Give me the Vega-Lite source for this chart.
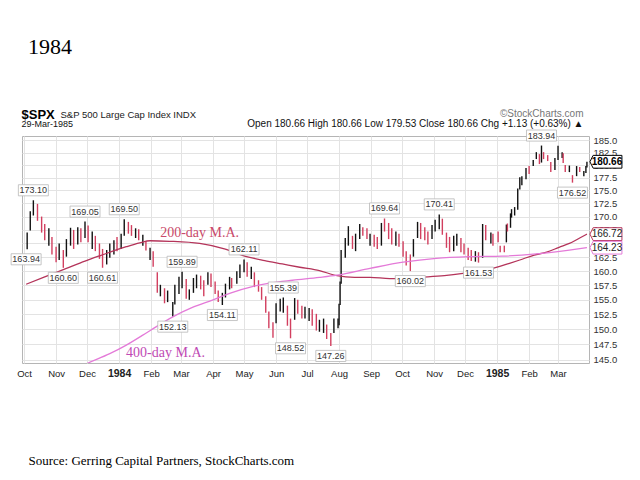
{
"$schema": "https://vega.github.io/schema/vega-lite/v6.json",
"width": 567,
"height": 227,
"autosize": {"type": "none"},
"padding": {"left": 22, "top": 136, "right": 51, "bottom": 117},
"background": "white",
"config": {"view": {"stroke": "#b5b5b5", "strokeWidth": 1}, "font": "Liberation Sans"},
"title": {"text": "1984", "anchor": "start", "frame": "group", "font": "Liberation Serif", "fontSize": 22, "fontWeight": "normal", "color": "#000000", "offset": 49, "dx": 6},
"datasets": {
"ohlc": [
{"d":"1983-10-04","o":165.5,"h":167.0,"l":163.94,"c":166.5},
{"d":"1983-10-07","o":167.6,"h":171.0,"l":167.4,"c":170.8},
{"d":"1983-10-10","o":170.8,"h":173.1,"l":170.2,"c":172.6},
{"d":"1983-10-14","o":171.5,"h":172.4,"l":169.2,"c":169.6},
{"d":"1983-10-18","o":169.5,"h":170.0,"l":167.0,"c":167.5},
{"d":"1983-10-21","o":167.8,"h":168.6,"l":165.6,"c":166.0},
{"d":"1983-10-25","o":165.5,"h":167.8,"l":164.6,"c":166.8},
{"d":"1983-10-28","o":165.8,"h":166.2,"l":163.0,"c":163.4},
{"d":"1983-11-01","o":163.6,"h":164.4,"l":161.6,"c":162.2},
{"d":"1983-11-04","o":162.4,"h":165.0,"l":162.0,"c":164.2},
{"d":"1983-11-08","o":163.2,"h":163.8,"l":160.6,"c":161.4},
{"d":"1983-11-11","o":162.8,"h":165.8,"l":162.6,"c":165.4},
{"d":"1983-11-15","o":165.4,"h":167.9,"l":164.6,"c":166.8},
{"d":"1983-11-18","o":166.5,"h":167.5,"l":164.0,"c":164.8},
{"d":"1983-11-22","o":165.2,"h":168.0,"l":164.8,"c":167.4},
{"d":"1983-11-25","o":167.2,"h":167.8,"l":165.2,"c":166.0},
{"d":"1983-11-29","o":166.4,"h":169.05,"l":166.0,"c":168.4},
{"d":"1983-12-02","o":168.0,"h":168.3,"l":165.2,"c":165.8},
{"d":"1983-12-06","o":165.6,"h":167.2,"l":164.0,"c":166.5},
{"d":"1983-12-09","o":166.2,"h":166.4,"l":163.6,"c":164.0},
{"d":"1983-12-13","o":164.4,"h":165.0,"l":162.2,"c":162.6},
{"d":"1983-12-16","o":162.6,"h":164.0,"l":160.61,"c":161.8},
{"d":"1983-12-20","o":161.8,"h":163.8,"l":161.2,"c":163.2},
{"d":"1983-12-23","o":162.8,"h":165.0,"l":162.4,"c":164.6},
{"d":"1983-12-27","o":164.4,"h":165.6,"l":163.0,"c":165.0},
{"d":"1983-12-30","o":165.2,"h":166.2,"l":163.6,"c":164.9},
{"d":"1984-01-03","o":164.4,"h":166.8,"l":164.0,"c":166.6},
{"d":"1984-01-06","o":166.8,"h":169.5,"l":166.4,"c":169.2},
{"d":"1984-01-10","o":168.6,"h":169.0,"l":166.8,"c":167.2},
{"d":"1984-01-13","o":167.2,"h":168.4,"l":166.4,"c":167.0},
{"d":"1984-01-17","o":167.0,"h":167.8,"l":166.0,"c":167.4},
{"d":"1984-01-20","o":167.2,"h":167.6,"l":165.6,"c":166.2},
{"d":"1984-01-24","o":165.4,"h":166.6,"l":164.6,"c":165.9},
{"d":"1984-01-27","o":165.2,"h":165.4,"l":163.7,"c":163.9},
{"d":"1984-01-31","o":163.2,"h":164.2,"l":162.0,"c":163.4},
{"d":"1984-02-03","o":163.2,"h":163.6,"l":160.8,"c":161.0},
{"d":"1984-02-07","o":159.4,"h":159.8,"l":156.2,"c":156.6},
{"d":"1984-02-10","o":156.4,"h":157.6,"l":155.6,"c":157.0},
{"d":"1984-02-14","o":156.8,"h":157.0,"l":154.4,"c":155.0},
{"d":"1984-02-17","o":155.0,"h":156.6,"l":154.6,"c":155.8},
{"d":"1984-02-22","o":154.2,"h":154.6,"l":152.13,"c":154.3},
{"d":"1984-02-24","o":154.4,"h":157.6,"l":154.2,"c":157.5},
{"d":"1984-02-28","o":157.4,"h":159.0,"l":156.0,"c":158.6},
{"d":"1984-03-02","o":158.6,"h":159.89,"l":157.0,"c":159.3},
{"d":"1984-03-06","o":158.4,"h":158.6,"l":155.2,"c":155.8},
{"d":"1984-03-09","o":155.4,"h":156.8,"l":155.0,"c":156.2},
{"d":"1984-03-13","o":156.4,"h":158.8,"l":156.2,"c":158.2},
{"d":"1984-03-16","o":157.6,"h":159.4,"l":157.0,"c":158.8},
{"d":"1984-03-20","o":158.8,"h":159.2,"l":156.8,"c":157.4},
{"d":"1984-03-23","o":157.6,"h":158.4,"l":155.6,"c":156.4},
{"d":"1984-03-27","o":157.8,"h":159.8,"l":157.6,"c":159.6},
{"d":"1984-03-30","o":159.4,"h":159.6,"l":157.2,"c":158.0},
{"d":"1984-04-03","o":157.8,"h":158.2,"l":156.0,"c":156.4},
{"d":"1984-04-06","o":156.4,"h":156.6,"l":154.6,"c":155.0},
{"d":"1984-04-10","o":154.8,"h":156.2,"l":154.11,"c":155.8},
{"d":"1984-04-13","o":156.0,"h":157.8,"l":155.4,"c":157.0},
{"d":"1984-04-17","o":157.0,"h":159.0,"l":156.8,"c":158.6},
{"d":"1984-04-19","o":158.6,"h":158.8,"l":157.0,"c":157.6},
{"d":"1984-04-24","o":158.0,"h":160.0,"l":157.8,"c":159.6},
{"d":"1984-04-27","o":159.6,"h":161.2,"l":158.8,"c":160.6},
{"d":"1984-05-01","o":160.6,"h":162.11,"l":159.8,"c":161.6},
{"d":"1984-05-04","o":161.4,"h":161.6,"l":159.0,"c":159.6},
{"d":"1984-05-08","o":159.4,"h":160.8,"l":158.6,"c":160.2},
{"d":"1984-05-11","o":159.6,"h":159.8,"l":157.2,"c":157.6},
{"d":"1984-05-15","o":157.8,"h":158.4,"l":156.4,"c":157.0},
{"d":"1984-05-18","o":156.8,"h":157.2,"l":155.0,"c":155.4},
{"d":"1984-05-22","o":155.4,"h":155.6,"l":152.8,"c":153.2},
{"d":"1984-05-25","o":152.8,"h":153.0,"l":150.2,"c":150.8},
{"d":"1984-05-29","o":150.6,"h":151.2,"l":148.6,"c":150.0},
{"d":"1984-06-01","o":151.2,"h":154.4,"l":151.0,"c":153.8},
{"d":"1984-06-05","o":153.8,"h":155.2,"l":153.0,"c":154.6},
{"d":"1984-06-08","o":154.6,"h":155.39,"l":152.8,"c":155.0},
{"d":"1984-06-12","o":153.8,"h":154.0,"l":150.6,"c":151.0},
{"d":"1984-06-15","o":151.0,"h":151.8,"l":148.52,"c":149.2},
{"d":"1984-06-19","o":151.8,"h":155.3,"l":151.6,"c":154.8},
{"d":"1984-06-22","o":154.6,"h":155.0,"l":152.6,"c":153.2},
{"d":"1984-06-26","o":153.4,"h":154.0,"l":151.8,"c":152.4},
{"d":"1984-06-29","o":152.2,"h":153.8,"l":151.8,"c":153.2},
{"d":"1984-07-03","o":153.0,"h":153.6,"l":151.4,"c":153.4},
{"d":"1984-07-06","o":153.2,"h":153.4,"l":150.6,"c":151.4},
{"d":"1984-07-10","o":151.6,"h":152.6,"l":149.8,"c":150.2},
{"d":"1984-07-13","o":150.2,"h":151.6,"l":149.6,"c":150.8},
{"d":"1984-07-17","o":150.6,"h":151.8,"l":149.4,"c":151.2},
{"d":"1984-07-20","o":150.6,"h":150.8,"l":148.4,"c":149.0},
{"d":"1984-07-24","o":148.8,"h":149.4,"l":147.26,"c":147.8},
{"d":"1984-07-27","o":149.6,"h":151.8,"l":149.4,"c":151.2},
{"d":"1984-07-31","o":150.6,"h":151.8,"l":150.2,"c":150.7},
{"d":"1984-08-01","o":150.7,"h":154.3,"l":150.7,"c":154.1},
{"d":"1984-08-02","o":154.1,"h":158.2,"l":154.1,"c":158.0},
{"d":"1984-08-03","o":158.0,"h":163.8,"l":157.8,"c":162.4},
{"d":"1984-08-07","o":162.8,"h":166.0,"l":162.4,"c":165.4},
{"d":"1984-08-10","o":165.2,"h":168.2,"l":164.6,"c":167.2},
{"d":"1984-08-14","o":166.2,"h":166.4,"l":164.0,"c":164.6},
{"d":"1984-08-17","o":164.6,"h":166.8,"l":163.6,"c":166.2},
{"d":"1984-08-21","o":166.4,"h":168.6,"l":165.8,"c":168.2},
{"d":"1984-08-24","o":167.6,"h":168.0,"l":166.4,"c":166.8},
{"d":"1984-08-28","o":167.0,"h":167.8,"l":165.8,"c":166.0},
{"d":"1984-08-31","o":166.0,"h":166.8,"l":164.6,"c":166.6},
{"d":"1984-09-04","o":166.4,"h":166.6,"l":164.4,"c":164.8},
{"d":"1984-09-07","o":165.6,"h":166.2,"l":164.0,"c":164.4},
{"d":"1984-09-11","o":164.8,"h":168.8,"l":164.6,"c":168.4},
{"d":"1984-09-14","o":168.4,"h":169.64,"l":167.2,"c":167.8},
{"d":"1984-09-18","o":168.6,"h":168.8,"l":165.8,"c":166.4},
{"d":"1984-09-21","o":167.4,"h":167.8,"l":164.8,"c":165.2},
{"d":"1984-09-25","o":165.0,"h":167.2,"l":164.6,"c":166.4},
{"d":"1984-09-28","o":166.4,"h":166.8,"l":164.4,"c":166.1},
{"d":"1984-10-02","o":165.2,"h":165.4,"l":162.6,"c":162.8},
{"d":"1984-10-05","o":162.8,"h":163.6,"l":161.0,"c":162.4},
{"d":"1984-10-09","o":162.0,"h":163.0,"l":160.02,"c":161.6},
{"d":"1984-10-12","o":162.8,"h":165.8,"l":162.6,"c":165.4},
{"d":"1984-10-16","o":166.2,"h":169.0,"l":166.0,"c":168.4},
{"d":"1984-10-19","o":168.2,"h":168.8,"l":165.8,"c":167.0},
{"d":"1984-10-23","o":167.0,"h":168.0,"l":165.6,"c":166.0},
{"d":"1984-10-26","o":166.0,"h":167.2,"l":164.8,"c":165.3},
{"d":"1984-10-30","o":165.8,"h":168.4,"l":165.8,"c":168.0},
{"d":"1984-11-02","o":167.8,"h":169.4,"l":167.2,"c":168.6},
{"d":"1984-11-06","o":168.4,"h":170.41,"l":167.6,"c":170.2},
{"d":"1984-11-09","o":169.4,"h":169.6,"l":166.6,"c":167.4},
{"d":"1984-11-13","o":166.8,"h":167.0,"l":164.2,"c":164.6},
{"d":"1984-11-16","o":165.6,"h":166.2,"l":163.4,"c":163.8},
{"d":"1984-11-20","o":163.8,"h":166.4,"l":163.6,"c":165.6},
{"d":"1984-11-23","o":165.6,"h":166.8,"l":164.6,"c":166.2},
{"d":"1984-11-27","o":165.6,"h":166.0,"l":163.4,"c":164.0},
{"d":"1984-11-30","o":164.2,"h":165.0,"l":163.0,"c":163.6},
{"d":"1984-12-04","o":163.6,"h":164.2,"l":162.0,"c":162.4},
{"d":"1984-12-07","o":162.4,"h":163.8,"l":161.8,"c":162.2},
{"d":"1984-12-11","o":162.2,"h":163.6,"l":161.7,"c":162.6},
{"d":"1984-12-14","o":162.8,"h":163.4,"l":161.53,"c":162.0},
{"d":"1984-12-18","o":162.6,"h":168.6,"l":162.4,"c":168.1},
{"d":"1984-12-21","o":167.8,"h":168.4,"l":165.6,"c":166.0},
{"d":"1984-12-26","o":166.0,"h":167.0,"l":165.0,"c":166.4},
{"d":"1984-12-28","o":166.4,"h":166.8,"l":164.6,"c":165.6},
{"d":"1985-01-02","o":167.2,"h":167.2,"l":165.2,"c":165.4},
{"d":"1985-01-04","o":164.6,"h":164.6,"l":163.4,"c":163.7},
{"d":"1985-01-08","o":164.2,"h":164.6,"l":163.4,"c":164.0},
{"d":"1985-01-10","o":165.2,"h":168.5,"l":165.2,"c":168.3},
{"d":"1985-01-11","o":168.3,"h":168.7,"l":167.2,"c":167.9},
{"d":"1985-01-14","o":167.9,"h":170.6,"l":167.9,"c":170.5},
{"d":"1985-01-15","o":170.5,"h":171.4,"l":169.8,"c":170.8},
{"d":"1985-01-18","o":170.7,"h":171.8,"l":170.2,"c":171.3},
{"d":"1985-01-21","o":171.3,"h":175.4,"l":171.3,"c":175.2},
{"d":"1985-01-23","o":175.5,"h":177.6,"l":175.2,"c":177.3},
{"d":"1985-01-25","o":176.7,"h":177.8,"l":176.0,"c":177.4},
{"d":"1985-01-29","o":177.4,"h":179.4,"l":177.2,"c":179.2},
{"d":"1985-02-01","o":179.6,"h":179.8,"l":178.2,"c":178.6},
{"d":"1985-02-05","o":180.3,"h":181.0,"l":179.8,"c":180.6},
{"d":"1985-02-08","o":181.8,"h":182.6,"l":181.2,"c":182.2},
{"d":"1985-02-11","o":182.2,"h":182.2,"l":180.2,"c":180.5},
{"d":"1985-02-13","o":180.6,"h":183.94,"l":180.5,"c":183.4},
{"d":"1985-02-15","o":182.4,"h":182.6,"l":181.2,"c":181.6},
{"d":"1985-02-19","o":181.6,"h":182.0,"l":180.8,"c":181.3},
{"d":"1985-02-22","o":180.2,"h":180.6,"l":178.6,"c":179.2},
{"d":"1985-02-26","o":179.2,"h":181.4,"l":179.0,"c":181.2},
{"d":"1985-03-01","o":181.2,"h":183.9,"l":181.0,"c":183.2},
{"d":"1985-03-05","o":182.0,"h":182.6,"l":181.4,"c":182.2},
{"d":"1985-03-06","o":182.2,"h":182.4,"l":180.4,"c":180.6},
{"d":"1985-03-08","o":179.2,"h":180.0,"l":178.6,"c":179.1},
{"d":"1985-03-12","o":178.8,"h":179.9,"l":178.6,"c":179.7},
{"d":"1985-03-15","o":177.8,"h":178.0,"l":176.52,"c":176.6},
{"d":"1985-03-19","o":177.9,"h":179.8,"l":177.8,"c":179.5},
{"d":"1985-03-22","o":179.4,"h":179.6,"l":178.6,"c":179.0},
{"d":"1985-03-26","o":178.0,"h":178.8,"l":177.8,"c":178.4},
{"d":"1985-03-28","o":178.4,"h":179.8,"l":178.4,"c":179.53},
{"d":"1985-03-29","o":180.66,"h":180.66,"l":179.53,"c":180.66}
],
"ma": [
{"d":"1983-10-03","v":157.7,"s":"200-day"},
{"d":"1983-10-21","v":159.0,"s":"200-day"},
{"d":"1983-11-11","v":160.5,"s":"200-day"},
{"d":"1983-11-29","v":161.8,"s":"200-day"},
{"d":"1983-12-14","v":162.8,"s":"200-day"},
{"d":"1984-01-08","v":164.4,"s":"200-day"},
{"d":"1984-01-21","v":165.1,"s":"200-day"},
{"d":"1984-01-31","v":165.5,"s":"200-day"},
{"d":"1984-02-19","v":165.4,"s":"200-day"},
{"d":"1984-03-19","v":165.0,"s":"200-day"},
{"d":"1984-04-12","v":164.0,"s":"200-day"},
{"d":"1984-04-30","v":162.8,"s":"200-day"},
{"d":"1984-05-21","v":161.9,"s":"200-day"},
{"d":"1984-06-07","v":161.3,"s":"200-day"},
{"d":"1984-06-24","v":160.7,"s":"200-day"},
{"d":"1984-07-13","v":160.1,"s":"200-day"},
{"d":"1984-07-30","v":159.2,"s":"200-day"},
{"d":"1984-08-16","v":158.9,"s":"200-day"},
{"d":"1984-08-31","v":158.9,"s":"200-day"},
{"d":"1984-09-19","v":158.7,"s":"200-day"},
{"d":"1984-10-02","v":158.7,"s":"200-day"},
{"d":"1984-10-18","v":158.9,"s":"200-day"},
{"d":"1984-11-11","v":159.2,"s":"200-day"},
{"d":"1984-11-29","v":159.6,"s":"200-day"},
{"d":"1984-12-13","v":160.0,"s":"200-day"},
{"d":"1984-12-28","v":160.5,"s":"200-day"},
{"d":"1985-01-13","v":161.4,"s":"200-day"},
{"d":"1985-01-23","v":162.0,"s":"200-day"},
{"d":"1985-02-06","v":162.9,"s":"200-day"},
{"d":"1985-02-18","v":163.4,"s":"200-day"},
{"d":"1985-03-02","v":164.3,"s":"200-day"},
{"d":"1985-03-12","v":165.0,"s":"200-day"},
{"d":"1985-03-22","v":166.0,"s":"200-day"},
{"d":"1985-03-29","v":166.72,"s":"200-day"},
{"d":"1983-11-24","v":143.9,"s":"400-day"},
{"d":"1983-12-02","v":144.5,"s":"400-day"},
{"d":"1983-12-23","v":146.0,"s":"400-day"},
{"d":"1984-01-08","v":147.4,"s":"400-day"},
{"d":"1984-02-01","v":149.9,"s":"400-day"},
{"d":"1984-02-22","v":152.1,"s":"400-day"},
{"d":"1984-03-12","v":153.7,"s":"400-day"},
{"d":"1984-04-01","v":155.0,"s":"400-day"},
{"d":"1984-04-20","v":156.3,"s":"400-day"},
{"d":"1984-05-09","v":157.3,"s":"400-day"},
{"d":"1984-05-26","v":157.9,"s":"400-day"},
{"d":"1984-06-17","v":158.4,"s":"400-day"},
{"d":"1984-07-13","v":158.9,"s":"400-day"},
{"d":"1984-07-30","v":159.3,"s":"400-day"},
{"d":"1984-08-31","v":160.5,"s":"400-day"},
{"d":"1984-10-02","v":161.6,"s":"400-day"},
{"d":"1984-11-03","v":162.3,"s":"400-day"},
{"d":"1984-12-05","v":162.6,"s":"400-day"},
{"d":"1985-01-06","v":162.7,"s":"400-day"},
{"d":"1985-02-08","v":163.1,"s":"400-day"},
{"d":"1985-03-12","v":163.8,"s":"400-day"},
{"d":"1985-03-29","v":164.23,"s":"400-day"}
],
"labels": [
{"d":"1983-10-10","p":173.10,"t":"173.10","s":"high"},
{"d":"1983-10-03","p":163.94,"t":"163.94","s":"low"},
{"d":"1983-11-29","p":169.05,"t":"169.05","s":"high"},
{"d":"1983-11-08","p":160.60,"t":"160.60","s":"low"},
{"d":"1983-12-16","p":160.61,"t":"160.61","s":"low"},
{"d":"1984-01-06","p":169.50,"t":"169.50","s":"high"},
{"d":"1984-03-02","p":159.89,"t":"159.89","s":"high"},
{"d":"1984-02-22","p":152.13,"t":"152.13","s":"low"},
{"d":"1984-04-10","p":154.11,"t":"154.11","s":"low"},
{"d":"1984-05-01","p":162.11,"t":"162.11","s":"high"},
{"d":"1984-06-08","p":155.39,"t":"155.39","s":"high"},
{"d":"1984-06-15","p":148.52,"t":"148.52","s":"low"},
{"d":"1984-07-24","p":147.26,"t":"147.26","s":"low"},
{"d":"1984-09-14","p":169.64,"t":"169.64","s":"high"},
{"d":"1984-10-09","p":160.02,"t":"160.02","s":"low"},
{"d":"1984-11-06","p":170.41,"t":"170.41","s":"high"},
{"d":"1984-12-14","p":161.53,"t":"161.53","s":"low"},
{"d":"1985-02-13","p":183.94,"t":"183.94","s":"high"},
{"d":"1985-03-15","p":176.52,"t":"176.52","s":"low"}
],
"malab": [
{"d":"1984-03-19","v":166.9,"t":"200-day M.A.","s":"200-day"},
{"d":"1984-02-15","v":146.1,"t":"400-day M.A.","s":"400-day"}
],
"tags": [
{"d":"1985-03-29","v":180.66,"t":"180.66","s":"price"},
{"d":"1985-03-29","v":166.72,"t":"166.72","s":"200-day"},
{"d":"1985-03-29","v":164.23,"t":"164.23","s":"400-day"}
]
},
"layer": [
{
"data": {"name": "ohlc"},
"mark": {"type": "rule", "strokeWidth": 1.4},
"encoding": {
"x": {"field": "d", "type": "temporal",
"scale": {"type": "utc", "domain": [{"year": 1983, "month": "sep", "date": 29, "utc": true}, {"year": 1985, "month": "mar", "date": 31, "utc": true}]},
"axis": {"orient": "bottom", "tickCount": {"interval": "month", "step": 1}, "grid": true, "gridColor": "#e3e3e3", "ticks": false, "domain": false, "labelFlush": false, "labelOverlap": false, "labelPadding": 5, "labelFontSize": {"condition": {"test": "utcmonth(datum.value) == 0", "value": 10.5}, "value": 9.5}, "labelColor": "#222", "labelExpr": "utcmonth(datum.value) == 0 ? utcFormat(datum.value, '%Y') : utcFormat(datum.value, '%b')", "labelFontWeight": {"condition": {"test": "utcmonth(datum.value) == 0", "value": "bold"}, "value": "normal"},
"title": "Source: Gerring Capital Partners, StockCharts.com", "titleFont": "Liberation Serif", "titleFontSize": 13, "titleFontWeight": "normal", "titleColor": "#000", "titleX": 6, "titleY": 101, "titleAlign": "left", "titleAnchor": "start", "titleBaseline": "alphabetic"}},
"y": {"field": "l", "type": "quantitative",
"scale": {"type": "log", "domain": [144.5, 185.9], "nice": false, "zero": false},
"axis": {"orient": "right", "values": [145, 147.5, 150, 152.5, 155, 157.5, 160, 162.5, 165, 167.5, 170, 172.5, 175, 177.5, 180, 182.5, 185], "format": ".1f", "grid": true, "gridColor": "#e3e3e3", "ticks": false, "domain": false, "labelPadding": 4, "labelFontSize": 9.5, "labelColor": "#333",
"title": "©StockCharts.com", "titleAngle": 0, "titleX": -6, "titleY": -20, "titleAlign": "right", "titleBaseline": "alphabetic", "titleFontSize": 10, "titleFontWeight": "normal", "titleColor": "#777"}},
"y2": {"field": "h"},
"color": {"condition": {"test": "datum.c >= datum.o", "value": "#111111"}, "value": "#d23f5f"}
}
},
{
"data": {"name": "ma"},
"mark": {"type": "line", "strokeWidth": 1.3, "clip": true, "interpolate": "monotone"},
"encoding": {
"x": {"field": "d", "type": "temporal", "axis": {"orient": "top", "labels": false, "ticks": false, "domain": false, "grid": false, "title": "Open 180.66  High 180.66  Low 179.53  Close 180.66  Chg +1.13 (+0.63%) ▲", "titleX": 561, "titleY": -10, "titleAlign": "right", "titleBaseline": "alphabetic", "titleFontSize": 10, "titleFontWeight": "normal", "titleColor": "#111"}},
"y": {"field": "v", "type": "quantitative", "axis": {"orient": "left", "labels": false, "ticks": false, "domain": false, "grid": false, "title": "29-Mar-1985", "titleAngle": 0, "titleX": -1, "titleY": -10, "titleAlign": "left", "titleBaseline": "alphabetic", "titleFontSize": 9, "titleFontWeight": "normal", "titleColor": "#111"}},
"color": {"field": "s", "type": "nominal", "scale": {"domain": ["200-day", "400-day"], "range": ["#b4345a", "#e47ad8"]}, "legend": null},
"detail": {"field": "s"}
}
},
{
"data": {"name": "labels"},
"transform": [{"filter": "datum.s == 'high'"}],
"mark": {"type": "point", "shape": "M-1,-0.37H1V0.37H-1Z", "size": 900, "filled": true, "fill": "white", "stroke": "#b8b8b8", "strokeWidth": 0.8, "opacity": 1, "yOffset": -10},
"encoding": {
"x": {"field": "d", "type": "temporal", "axis": {"orient": "top", "labels": false, "ticks": false, "domain": false, "grid": false, "title": "$SPX", "titleX": -1, "titleY": -18, "titleAlign": "left", "titleBaseline": "alphabetic", "titleFontSize": 13, "titleFontWeight": "bold", "titleColor": "#000"}},
"y": {"field": "p", "type": "quantitative", "axis": null}
}
},
{
"data": {"name": "labels"},
"transform": [{"filter": "datum.s == 'high'"}],
"mark": {"type": "text", "fontSize": 9, "fill": "#333", "yOffset": -10, "baseline": "middle", "align": "center"},
"encoding": {
"x": {"field": "d", "type": "temporal", "axis": {"orient": "top", "labels": false, "ticks": false, "domain": false, "grid": false, "title": "S&P 500 Large Cap Index   INDX", "titleX": 38, "titleY": -19, "titleAlign": "left", "titleBaseline": "alphabetic", "titleFontSize": 9.5, "titleFontWeight": "normal", "titleColor": "#222"}},
"y": {"field": "p", "type": "quantitative", "axis": null},
"text": {"field": "t"}
}
},
{
"data": {"name": "labels"},
"transform": [{"filter": "datum.s == 'low'"}],
"mark": {"type": "point", "shape": "M-1,-0.37H1V0.37H-1Z", "size": 900, "filled": true, "fill": "white", "stroke": "#b8b8b8", "strokeWidth": 0.8, "opacity": 1, "yOffset": 10},
"encoding": {
"x": {"field": "d", "type": "temporal", "axis": null},
"y": {"field": "p", "type": "quantitative", "axis": null}
}
},
{
"data": {"name": "labels"},
"transform": [{"filter": "datum.s == 'low'"}],
"mark": {"type": "text", "fontSize": 9, "fill": "#333", "yOffset": 10, "baseline": "middle", "align": "center"},
"encoding": {
"x": {"field": "d", "type": "temporal", "axis": null},
"y": {"field": "p", "type": "quantitative", "axis": null},
"text": {"field": "t"}
}
},
{
"data": {"name": "malab"},
"mark": {"type": "text", "font": "Liberation Serif", "fontSize": 14, "baseline": "middle", "align": "center"},
"encoding": {
"x": {"field": "d", "type": "temporal", "axis": null},
"y": {"field": "v", "type": "quantitative", "axis": null},
"text": {"field": "t"},
"color": {"condition": {"test": "datum.s == '200-day'", "value": "#c94a6a"}, "value": "#c04ab4"}
}
},
{
"data": {"name": "tags"},
"mark": {"type": "point", "shape": "M-1,0L-0.8,-0.4H1V0.4H-0.8Z", "size": 1024, "filled": true, "fill": "white", "strokeWidth": 1, "opacity": 1, "xOffset": 19},
"encoding": {
"x": {"field": "d", "type": "temporal", "axis": null},
"y": {"field": "v", "type": "quantitative", "axis": null},
"stroke": {"condition": [{"test": "datum.s == 'price'", "value": "#000000"}, {"test": "datum.s == '200-day'", "value": "#b4345a"}], "value": "#e47ad8"}
}
},
{
"data": {"name": "tags"},
"transform": [{"filter": "datum.s == 'price'"}],
"mark": {"type": "text", "fontSize": 10, "fontWeight": "bold", "fill": "#000", "xOffset": 20, "baseline": "middle", "align": "center"},
"encoding": {
"x": {"field": "d", "type": "temporal", "axis": null},
"y": {"field": "v", "type": "quantitative", "axis": null},
"text": {"field": "t"}
}
},
{
"data": {"name": "tags"},
"transform": [{"filter": "datum.s != 'price'"}],
"mark": {"type": "text", "fontSize": 10, "fill": "#222", "xOffset": 20, "baseline": "middle", "align": "center"},
"encoding": {
"x": {"field": "d", "type": "temporal", "axis": null},
"y": {"field": "v", "type": "quantitative", "axis": null},
"text": {"field": "t"}
}
}
],
"resolve": {"axis": {"x": "independent", "y": "independent"}}
}
